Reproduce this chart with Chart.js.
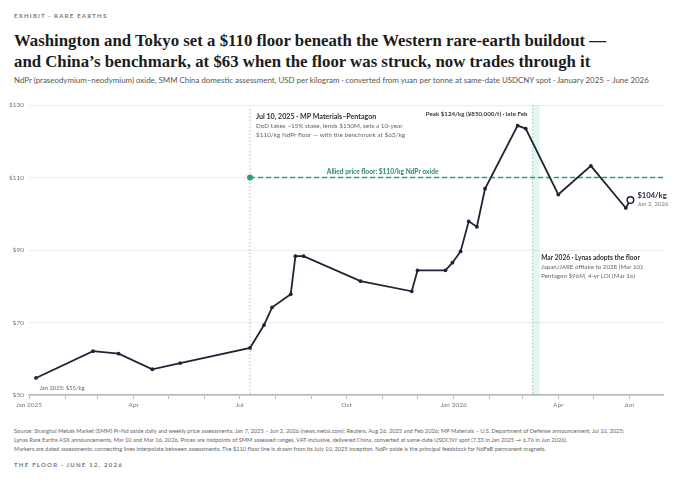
<!DOCTYPE html>
<html>
<head>
<meta charset="utf-8">
<script src="https://cdn.jsdelivr.net/npm/chart.js@4/dist/chart.umd.min.js"></script>
<style>
  body { margin: 0; width: 680px; height: 483px; background: #fff; position: relative; overflow: hidden; font-family: Lato, sans-serif; }
  .kicker { position: absolute; left: 14px; top: 11px; font-size: 6px; font-weight: 700; letter-spacing: 1.25px; color: #777; line-height: 10px; }
  h1 { position: absolute; left: 14px; top: 29.5px; margin: 0; font: 700 16.8px 'Liberation Serif', serif; line-height: 21px; color: #1c1c1c; }
  .sub { position: absolute; left: 14px; top: 74px; font-size: 7.9px; line-height: 12px; color: #555; white-space: nowrap; }
  .foot { position: absolute; left: 14px; top: 426px; font-size: 5.7px; line-height: 9px; color: #666; white-space: nowrap; }
  .sign { position: absolute; left: 14px; top: 460px; font-size: 6px; font-weight: 700; letter-spacing: 1.25px; color: #777; line-height: 10px; }
  #wrap { position: absolute; left: 0; top: 95px; width: 680px; height: 325px; }
</style>
</head>
<body>
<div class="kicker">EXHIBIT · RARE EARTHS</div>
<h1>Washington and Tokyo set a $110 floor beneath the Western rare-earth buildout —<br>and China’s benchmark, at $63 when the floor was struck, now trades through it</h1>
<div class="sub">NdPr (praseodymium–neodymium) oxide, SMM China domestic assessment, USD per kilogram · converted from yuan per tonne at same-date USDCNY spot · January 2025 – June 2026</div>
<div id="wrap"><canvas id="chart"></canvas></div>
<div class="foot">Source: Shanghai Metals Market (SMM) Pr-Nd oxide daily and weekly price assessments, Jan 7, 2025 – Jun 2, 2026 (news.metal.com); Reuters, Aug 26, 2025 and Feb 2026; MP Materials – U.S. Department of Defense announcement, Jul 10, 2025;<br>Lynas Rare Earths ASX announcements, Mar 10 and Mar 16, 2026. Prices are midpoints of SMM assessed ranges, VAT-inclusive, delivered China, converted at same-date USDCNY spot (7.33 in Jan 2025 → 6.76 in Jun 2026).<br>Markers are dated assessments; connecting lines interpolate between assessments. The $110 floor line is drawn from its July 10, 2025 inception. NdPr oxide is the principal feedstock for NdFeB permanent magnets.</div>
<div class="sign">THE FLOOR · JUNE 12, 2026</div>

<script>
// ------------------------------------------
// Data
// ------------------------------------------
const dates = [
  '2025-01-07', '2025-02-25', '2025-03-19', '2025-04-17', '2025-05-11',
  '2025-07-10', '2025-07-22', '2025-07-29', '2025-08-14', '2025-08-18',
  '2025-08-25', '2025-10-13', '2025-11-26', '2025-12-01', '2025-12-25',
  '2025-12-31', '2026-01-07', '2026-01-14', '2026-01-21', '2026-01-28',
  '2026-02-25', '2026-03-04', '2026-04-01', '2026-04-29', '2026-05-29',
  '2026-06-02'
];
const prices = [
  54.7, 62.1, 61.4, 57.1, 58.8,
  63.0, 69.3, 74.2, 77.8, 88.3,
  88.3, 81.4, 78.6, 84.4, 84.4,
  86.5, 89.6, 97.9, 96.4, 106.9,
  124.3, 123.5, 105.3, 113.2, 101.6,
  103.8
];

const tickDates = [
  '2025-01-01', '2025-02-01', '2025-03-01', '2025-04-01', '2025-05-01', '2025-06-01',
  '2025-07-01', '2025-08-01', '2025-09-01', '2025-10-01', '2025-11-01', '2025-12-01',
  '2026-01-01', '2026-02-01', '2026-03-01', '2026-04-01', '2026-05-01', '2026-06-01'
];
const tickLabels = [
  'Jan 2025', '', '', 'Apr', '', '',
  'Jul', '', '', 'Oct', '', '',
  'Jan 2026', '', '', 'Apr', '', 'Jun'
];
const yTicks = [50, 70, 90, 110, 130];

const axisStart = '2025-01-01';
const axisEnd = '2026-06-30';
const floorValue = 110;
const floorStart = '2025-07-10';
const lynasStart = '2026-03-10';
const lynasEnd = '2026-03-16';
const peakIndex = 20;

// days since Jan 1 2025
const day = (s) => (Date.parse(s) - Date.parse(axisStart)) / 86400000;

const points = dates.map((d, i) => ({ x: day(d), y: prices[i] }));
const last = points.length - 1;

const INK = '#1c2536';
const GREEN = '#2f9e6f';

// ------------------------------------------
// Annotations
// ------------------------------------------
const annotations = {
  id: 'annotations',
  beforeDatasetsDraw(chart) {
    const { ctx, chartArea: a, scales: { x, y } } = chart;
    ctx.save();

    // Lynas window
    const b0 = x.getPixelForValue(day(lynasStart));
    const b1 = x.getPixelForValue(day(lynasEnd));
    ctx.fillStyle = 'rgba(46,170,120,0.12)';
    ctx.fillRect(b0, a.top, b1 - b0, a.bottom - a.top);
    ctx.strokeStyle = '#8cc7ab';
    ctx.lineWidth = 1;
    ctx.setLineDash([1.5, 2]);
    ctx.beginPath();
    ctx.moveTo(b0, a.top);
    ctx.lineTo(b0, a.bottom);
    ctx.stroke();

    // Jul 10 marker
    const jx = x.getPixelForValue(day(floorStart));
    ctx.strokeStyle = '#b5b5b5';
    ctx.beginPath();
    ctx.moveTo(jx, a.top + 4);
    ctx.lineTo(jx, a.bottom);
    ctx.stroke();

    // floor
    const fy = y.getPixelForValue(floorValue);
    ctx.strokeStyle = GREEN;
    ctx.lineWidth = 1.5;
    ctx.setLineDash([5, 3]);
    ctx.beginPath();
    ctx.moveTo(jx, fy);
    ctx.lineTo(a.right, fy);
    ctx.stroke();
    ctx.setLineDash([]);
    ctx.fillStyle = GREEN;
    ctx.beginPath();
    ctx.arc(jx, fy, 3, 0, Math.PI * 2);
    ctx.fill();

    ctx.restore();
  },
  afterDatasetsDraw(chart) {
    const { ctx, chartArea: a, scales: { x, y } } = chart;
    ctx.save();
    ctx.textBaseline = 'middle';
    ctx.textAlign = 'left';

    // Jul 10 note
    const jx = x.getPixelForValue(day(floorStart));
    ctx.font = '700 7.1px Lato';
    ctx.fillStyle = '#2a2f3a';
    ctx.fillText('Jul 10, 2025 · MP Materials–Pentagon', jx + 6, a.top + 12);
    ctx.font = '400 6.4px Lato';
    ctx.fillStyle = '#666';
    ctx.fillText('DoD takes ~15% stake, lends $150M, sets a 10-year', jx + 6, a.top + 21);
    ctx.fillText('$110/kg NdPr floor — with the benchmark at $63/kg', jx + 6, a.top + 30);

    // floor label
    ctx.textAlign = 'center';
    ctx.font = '700 6.6px Lato';
    ctx.fillStyle = '#2a8a5f';
    ctx.fillText('Allied price floor: $110/kg NdPr oxide', x.getPixelForValue(day('2025-11-01')), y.getPixelForValue(floorValue) - 6);

    // peak
    ctx.textAlign = 'right';
    ctx.font = '700 6.2px Lato';
    ctx.fillStyle = '#3a3a3a';
    ctx.fillText('Peak $124/kg (¥850,000/t) · late Feb', x.getPixelForValue(points[peakIndex].x) + 10, a.top + 9);

    // latest value
    const lx = x.getPixelForValue(points[last].x);
    const ly = y.getPixelForValue(points[last].y);
    ctx.textAlign = 'left';
    ctx.font = '700 7.6px Lato';
    ctx.fillStyle = INK;
    ctx.fillText('$104/kg', lx + 7, ly - 4.7);
    ctx.font = '400 6px Lato';
    ctx.fillStyle = '#777';
    ctx.fillText('Jun 2, 2026', lx + 7, ly + 4.3);

    // Lynas note
    const mx = x.getPixelForValue(day(lynasStart)) + 8.5;
    const my = y.getPixelForValue(90) + 8;
    ctx.font = '700 6.6px Lato';
    ctx.fillStyle = '#2a2f3a';
    ctx.fillText('Mar 2026 · Lynas adopts the floor', mx, my);
    ctx.font = '400 6.2px Lato';
    ctx.fillStyle = '#666';
    ctx.fillText('Japan/JARE offtake to 2038 (Mar 10);', mx, my + 9.5);
    ctx.fillText('Pentagon $96M, 4-yr LOI (Mar 16)', mx, my + 18.5);

    // start value
    ctx.font = '400 5.8px Lato';
    ctx.fillText('Jan 2025: $55/kg', x.getPixelForValue(points[0].x) + 3.5, a.bottom - 7);

    ctx.restore();
  }
};

// ------------------------------------------
// Chart
// ------------------------------------------
Chart.defaults.font.family = 'Lato';

new Chart(document.getElementById('chart'), {
  type: 'line',
  data: {
    datasets: [{
      data: points,
      borderColor: INK,
      borderWidth: 1.8,
      tension: 0,
      pointRadius: (c) => c.dataIndex === last ? 3.3 : 1.9,
      pointBackgroundColor: (c) => c.dataIndex === last ? '#fff' : INK,
      pointBorderColor: INK,
      pointBorderWidth: (c) => c.dataIndex === last ? 1.5 : 0,
      clip: false
    }]
  },
  options: {
    responsive: true,
    maintainAspectRatio: false,
    animation: false,
    layout: { padding: { top: 10, right: 17, left: 0, bottom: 0 } },
    plugins: { legend: { display: false }, tooltip: { enabled: false } },
    scales: {
      x: {
        type: 'linear',
        min: 0,
        max: day(axisEnd),
        afterBuildTicks: (s) => { s.ticks = tickDates.map(d => ({ value: day(d) })); },
        afterFit: (s) => { s.height = 25; },
        ticks: {
          autoSkip: false,
          maxRotation: 0,
          callback: (v, i) => tickLabels[i],
          color: '#777',
          font: { size: 6.5 },
          padding: 2
        },
        grid: { drawOnChartArea: false, tickLength: 4, color: '#bbb' },
        border: { color: '#b8b8b8', width: 1.5 }
      },
      y: {
        min: 50,
        max: 130,
        afterBuildTicks: (s) => { s.ticks = yTicks.map(v => ({ value: v })); },
        afterFit: (s) => { s.width = 29; },
        ticks: { callback: (v) => '$' + v, color: '#777', font: { size: 6.5 }, padding: 5 },
        grid: { color: '#ececec', drawTicks: false },
        border: { display: false }
      }
    }
  },
  plugins: [annotations]
});
</script>
</body>
</html>
